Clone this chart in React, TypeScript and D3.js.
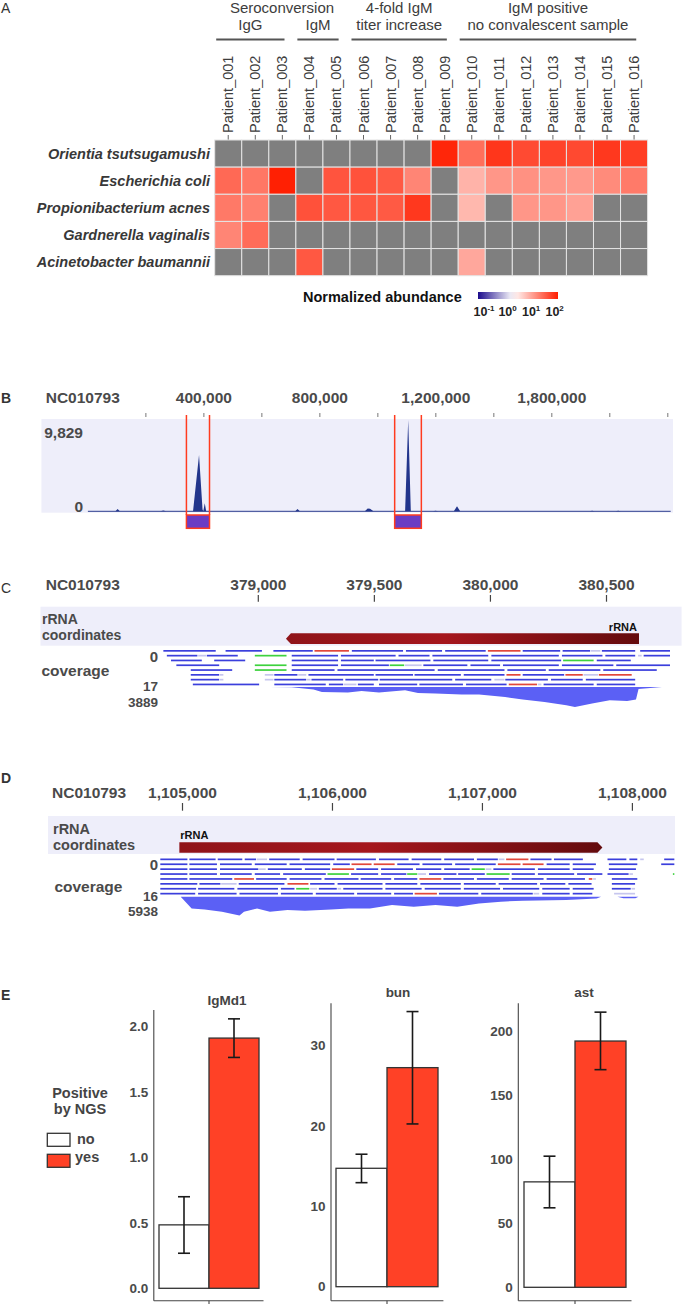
import React from "react";
import * as d3 from "d3";

const FONT = "'Liberation Sans', Arial, Helvetica, sans-serif";

// ---------------- Panel A data ----------------
const patients = [
  "Patient_001", "Patient_002", "Patient_003", "Patient_004", "Patient_005", "Patient_006",
  "Patient_007", "Patient_008", "Patient_009", "Patient_010", "Patient_011", "Patient_012",
  "Patient_013", "Patient_014", "Patient_015", "Patient_016",
];
const species = [
  "Orientia tsutsugamushi",
  "Escherichia coli",
  "Propionibacterium acnes",
  "Gardnerella vaginalis",
  "Acinetobacter baumannii",
];
// log10 normalized abundance, null = not detected
const orientiaVals = [null, null, null, null, null, null, null, null, 2.03, 1.42, 1.9, 1.73, 1.79, 1.74, 1.88, 1.83];
const ecoliVals = [1.47, 1.35, 2.08, null, 1.64, 1.66, 1.59, 1.23, null, 0.84, 1.09, 1.13, 1.08, 1.06, 1.18, 1.32];
const acnesVals = [1.33, 1.27, null, 1.67, 1.61, 1.62, 1.59, 1.88, null, 0.8, null, 1.09, 1.09, 0.99, null, null];
const gardnerellaVals = [1.23, 1.44, null, null, null, null, null, null, null, null, null, null, null, null, null, null];
const acinetoVals = [null, null, null, 1.61, null, null, null, null, null, 0.94, null, null, null, null, null, null];
const heatRows = [orientiaVals, ecoliVals, acnesVals, gardnerellaVals, acinetoVals];

const groupTitles = [
  { l1: "", l2: "IgG", from: 0, to: 2 },
  { l1: "", l2: "IgM", from: 3, to: 4 },
  { l1: "4-fold IgM", l2: "titer increase", from: 5, to: 8 },
  { l1: "IgM positive", l2: "no convalescent sample", from: 9, to: 15 },
];
const legendTicks = [-1, 0, 1, 2];

// ---------------- Panel B data ----------------
const bCovPos = [0, 95000, 102500, 110000, 250000, 260000, 270000, 355000, 362600, 383300, 395400, 398000, 403000, 408000,
  715000, 723000, 731000, 955000, 965000, 973000, 985000, 1094000, 1104700, 1113700, 1120000, 1190000, 1199000, 1208000,
  1262000, 1273000, 1284000, 1730000, 1739000, 1748000, 1820000, 1829000, 1838000, 2010000];
const bCovVal = [0, 0, 250, 0, 0, 80, 0, 0, 0, 6060, 200, 0, 860, 0,
  0, 250, 0, 0, 300, 280, 0, 0, 9829, 0, 0, 0, 60, 0,
  0, 540, 0, 0, 70, 0, 0, 60, 0, 0];
const bTicks = [200000, 400000, 600000, 800000, 1000000, 1200000, 1400000, 1600000, 1800000, 2000000];
const bLabelPos = [400000, 800000, 1200000, 1600000];
const bLabelText = ["400,000", "800,000", "1,200,000", "1,800,000"];
const bRegions = [[339800, 419400], [1058000, 1150000]];
const bMax = 9829;

// ---------------- Panel C data ----------------
const cTicks = [379000, 379500, 380000, 380500];
const cFeature = { start: 379119, end: 380640, strand: -1 };
const cCovPos = [379050, 379144, 379238, 379274, 379386, 379445, 379520, 379632, 379688, 379763, 379876, 379951, 380063,
  380139, 380233, 380327, 380364, 380438, 380514, 380589, 380627, 380638, 380739];
const cCovVal = [0, 60, 500, 970, 1090, 780, 1090, 640, 1170, 1280, 1480, 1480, 1940, 2450, 2920, 3560, 3889, 3230, 2590,
  2720, 2450, 400, 0];
const cMax = 3889;
const cRowsLabel = 17;
const cReadRows = [
  [[378591, 378820, "b"], [378859, 379019, "b"], [379065, 379238, "b"], [379242, 379394, "r"], [379403, 379627, "b"], [379636, 379795, "b"], [379805, 379983, "b"], [379989, 380133, "r"], [380139, 380304, "b"], [380311, 380433, "b"], [380433, 380477, "l"], [380480, 380627, "b"], [380645, 380777, "b"]],
  [[378606, 378741, "b"], [378741, 378778, "l"], [378778, 378915, "b"], [378985, 379125, "g"], [379144, 379347, "b"], [379356, 379595, "b"], [379604, 379741, "b"], [379750, 379994, "b"], [380004, 380298, "b"], [380308, 380486, "b"], [380495, 380627, "b"], [380636, 380655, "l"], [380660, 380777, "b"]],
  [[378624, 378760, "b"], [378810, 378947, "b"], [379144, 379347, "b"], [379356, 379501, "b"], [379505, 379745, "b"], [379754, 379994, "b"], [380004, 380308, "b"], [380313, 380448, "g"], [380458, 380608, "b"]],
  [[378647, 378835, "b"], [378985, 379125, "g"], [379144, 379347, "b"], [379356, 379566, "b"], [379566, 379632, "g"], [379632, 379707, "l"], [379711, 379904, "b"], [379914, 380045, "b"], [380054, 380298, "b"], [380308, 380533, "b"], [380542, 380777, "b"]],
  [[378709, 378891, "b"], [378985, 379125, "g"], [379144, 379332, "b"], [379341, 379763, "b"], [379773, 380064, "b"], [380073, 380242, "b"], [380251, 380477, "b"], [380486, 380720, "b"]],
  [[378709, 378835, "b"], [378835, 378853, "l"], [379028, 379069, "l"], [379069, 379172, "b"], [379172, 379210, "l"], [379216, 379501, "b"], [379505, 379670, "b"], [379673, 379876, "b"], [379885, 380064, "b"], [380069, 380133, "r"], [380139, 380321, "b"], [380323, 380401, "r"], [380401, 380467, "l"], [380467, 380612, "r"]],
  [[378709, 378835, "b"], [378835, 378853, "l"], [379028, 379069, "l"], [379069, 379210, "b"], [379210, 379229, "l"], [379229, 379369, "b"], [379375, 379520, "b"], [379523, 379839, "b"], [379848, 380007, "b"], [380017, 380064, "l"], [380064, 380251, "b"], [380261, 380401, "b"], [380411, 380627, "b"]],
  [[378718, 379007, "b"], [379069, 379294, "b"], [379304, 379369, "b"], [379369, 379426, "l"], [379429, 379501, "b"], [379520, 379688, "b"], [379694, 379885, "b"], [379895, 380073, "b"], [380079, 380204, "r"], [380204, 380223, "l"], [380229, 380448, "b"], [380458, 380627, "b"]],
];

// ---------------- Panel D data ----------------
const dTicks = [1105000, 1106000, 1107000, 1108000];
const dFeature = { start: 1104979, end: 1107800, strand: 1 };
const dCovPos = [1104988, 1105061, 1105148, 1105263, 1105380, 1105410, 1105497, 1105583, 1105700, 1105817, 1105990, 1106106,
  1106250, 1106397, 1106542, 1106687, 1106832, 1106977, 1107123, 1107268, 1107559, 1107762, 1107791, 1107900, 1107940,
  1108020, 1108040];
const dCovVal = [0, 3700, 4010, 4740, 5938, 4740, 3700, 4740, 4200, 4420, 4010, 3700, 3700, 2620, 3160, 2620, 3160, 2120,
  1580, 1260, 1040, 540, 0, 0, 450, 450, 0];
const dMax = 5938;
const dRowsLabel = 16;
const dReadRows = [
  [[1104852, 1105038, "b"], [1105046, 1105226, "b"], [1105235, 1105404, "b"], [1105415, 1105496, "b"], [1105496, 1105569, "l"], [1105578, 1105787, "b"], [1105801, 1106019, "b"], [1106028, 1106295, "b"], [1106310, 1106513, "b"], [1106528, 1106731, "b"], [1106745, 1106949, "b"], [1106963, 1107108, "b"], [1107108, 1107152, "l"], [1107158, 1107312, "r"], [1107320, 1107466, "b"], [1107477, 1107675, "b"], [1107834, 1107965, "b"], [1107980, 1108038, "b"], [1108052, 1108081, "l"], [1108212, 1108285, "b"]],
  [[1104852, 1105038, "b"], [1105046, 1105235, "b"], [1105250, 1105467, "b"], [1105482, 1105700, "b"], [1105714, 1105990, "b"], [1106005, 1106121, "b"], [1106127, 1106266, "r"], [1106275, 1106420, "r"], [1106432, 1106586, "b"], [1106600, 1106803, "b"], [1106818, 1107094, "b"], [1107103, 1107259, "r"], [1107268, 1107413, "r"], [1107428, 1107587, "b"], [1107602, 1107762, "b"], [1107843, 1108038, "b"], [1108192, 1108285, "b"]],
  [[1104852, 1105038, "b"], [1105046, 1105235, "b"], [1105250, 1105511, "b"], [1105511, 1105560, "l"], [1105569, 1105801, "b"], [1105816, 1105990, "b"], [1105996, 1106150, "r"], [1106159, 1106310, "b"], [1106324, 1106542, "b"], [1106557, 1106731, "b"], [1106745, 1106920, "b"], [1106928, 1107021, "g"], [1107021, 1107065, "l"], [1107073, 1107355, "b"], [1107370, 1107587, "b"], [1107602, 1107747, "b"], [1107843, 1108029, "b"]],
  [[1104852, 1105038, "b"], [1105046, 1105235, "b"], [1105250, 1105467, "b"], [1105482, 1105656, "b"], [1105671, 1105961, "b"], [1105967, 1106115, "g"], [1106124, 1106310, "b"], [1106324, 1106498, "b"], [1106498, 1106571, "g"], [1106571, 1106629, "l"], [1106644, 1106832, "b"], [1106838, 1107021, "b"], [1107027, 1107187, "g"], [1107195, 1107355, "b"], [1107370, 1107617, "b"], [1107631, 1107805, "b"], [1107834, 1107980, "b"], [1107980, 1108009, "l"], [1108270, 1108285, "g"]],
  [[1104852, 1105038, "b"], [1105046, 1105337, "b"], [1105345, 1105482, "r"], [1105491, 1105700, "b"], [1105714, 1105932, "b"], [1105947, 1106179, "b"], [1106188, 1106397, "b"], [1106411, 1106571, "b"], [1106580, 1106731, "r"], [1106740, 1106949, "b"], [1106963, 1107181, "b"], [1107195, 1107413, "b"], [1107428, 1107689, "b"], [1107709, 1107738, "r"], [1107738, 1107762, "l"], [1107863, 1108038, "b"]],
  [[1104852, 1105104, "b"], [1105113, 1105258, "b"], [1105258, 1105366, "l"], [1105375, 1105685, "b"], [1105700, 1105845, "r"], [1105851, 1106019, "b"], [1106034, 1106339, "b"], [1106353, 1106571, "b"], [1106586, 1106861, "b"], [1106876, 1107094, "b"], [1107108, 1107370, "b"], [1107384, 1107558, "b"], [1107573, 1107733, "b"], [1107863, 1108023, "b"]],
  [[1104852, 1105096, "b"], [1105104, 1105351, "b"], [1105366, 1105642, "b"], [1105656, 1105752, "b"], [1105758, 1105851, "g"], [1105851, 1105903, "l"], [1105909, 1106034, "b"], [1106034, 1106063, "l"], [1106072, 1106339, "b"], [1106353, 1106600, "b"], [1106615, 1106861, "b"], [1106876, 1107123, "b"], [1107137, 1107384, "b"], [1107399, 1107587, "b"], [1107602, 1107747, "b"], [1107863, 1107994, "b"], [1107994, 1108023, "l"]],
  [[1104852, 1105090, "b"], [1105104, 1105366, "b"], [1105380, 1105642, "b"], [1105656, 1105874, "b"], [1105889, 1106150, "b"], [1106164, 1106397, "b"], [1106411, 1106542, "b"], [1106548, 1106702, "r"], [1106710, 1106978, "b"], [1106992, 1107341, "b"], [1107341, 1107384, "l"], [1107399, 1107587, "b"], [1107602, 1107738, "b"], [1107878, 1108023, "l"]],
];

// ---------------- Panel E data ----------------
const eGroups = ["no", "yes"];
const igmMean = [0.485, 1.913];
const igmLo = [0.268, 1.765];
const igmHi = [0.7, 2.06];
const igmTicks = [0, 0.5, 1, 1.5, 2];
const bunMean = [14.74, 27.27];
const bunLo = [12.95, 20.26];
const bunHi = [16.49, 34.25];
const bunTicks = [0, 10, 20, 30];
const astMean = [82.5, 192.7];
const astLo = [62.2, 170.3];
const astHi = [102.6, 215.3];
const astTicks = [0, 50, 100, 150, 200];

// ---------------- styles ----------------
const GRAY_TXT = "#3d3d3d";
const IGV_TXT = "#4a4a4a";
const BAND_BG = "#eeeefa";
const readColors: Record<string, string> = { b: "#3b3fdc", r: "#e2473b", g: "#3ed23e", l: "#c6c6ee" };
const heatColor = d3.scaleLinear<string>().domain([-1.3, 0.2, 2.1]).range(["#1c0c8c", "#ffffff", "#ff1e00"]).clamp(true);

function Reads({ rows, x, y0, dy }: any) {
  return (
    <g>
      {rows.map((row: any[], i: number) =>
        row.map((r: any, j: number) => (
          <rect key={i + "-" + j} x={x(r[0])} y={y0 + i * dy} width={Math.max(0.8, x(r[1]) - x(r[0]) - 0.8)} height={1.7}
            fill={readColors[r[2]]} />
        ))
      )}
    </g>
  );
}

function Arrow({ f, x, top, h }: any) {
  const x0 = x(f.start), x1 = x(f.end), mid = top + h / 2, tip = 5;
  const pts = f.strand < 0
    ? [[x0, mid], [x0 + tip, top], [x1, top], [x1, top + h], [x0 + tip, top + h]]
    : [[x0, top], [x1 - tip, top], [x1, mid], [x1 - tip, top + h], [x0, top + h]];
  return <polygon points={pts.map((p) => p.join(",")).join(" ")} fill="url(#rrnaGrad)" />;
}

function PanelA() {
  const xA = d3.scaleBand().domain(patients).range([214.7, 647.6]);
  const yA = d3.scaleBand().domain(species).range([140, 275.7]);
  const bw = xA.bandwidth();
  const lg = d3.scaleLinear().domain([-1.3, 2.1]).range([478, 558]);
  const stops = d3.range(0, 1.0001, 0.1).map((t) => ({ t, c: heatColor(-1.3 + t * 3.4) }));
  return (
    <g>
      <defs>
        <linearGradient id="abundGrad" x1="0" x2="1" y1="0" y2="0">
          {stops.map((s) => <stop key={s.t} offset={s.t} stopColor={s.c} />)}
        </linearGradient>
      </defs>
      <text x={1} y={13} fontSize={14} fill="#333">A</text>
      <text x={282} y={13} fontSize={15} fill={GRAY_TXT} textAnchor="middle">Seroconversion</text>
      {groupTitles.map((g, i) => {
        const a = (xA(patients[g.from]) as number) + 1.5;
        const b = (xA(patients[g.to]) as number) + bw * 0.58;
        const c = (a + b) / 2;
        return (
          <g key={i}>
            {g.l1 && <text x={c} y={13} fontSize={15} fill={GRAY_TXT} textAnchor="middle">{g.l1}</text>}
            <text x={c} y={29.5} fontSize={15} fill={GRAY_TXT} textAnchor="middle">{g.l2}</text>
            <line x1={a} x2={b} y1={39.5} y2={39.5} stroke="#555" strokeWidth={1.8} />
          </g>
        );
      })}
      {patients.map((p) => {
        const cx = (xA(p) as number) + bw / 2;
        return (
          <g key={p}>
            <text transform={`translate(${cx + 5},133) rotate(-90)`} fontSize={14.5} fill={GRAY_TXT}>{p}</text>
            <line x1={cx} x2={cx} y1={135} y2={140} stroke="#666" strokeWidth={1} />
          </g>
        );
      })}
      {species.map((s, r) => (
        <g key={s}>
          <text x={210} y={(yA(s) as number) + yA.bandwidth() / 2 + 5} fontSize={14.5} fontWeight="bold" fontStyle="italic"
            fill="#383838" textAnchor="end">{s}</text>
          {patients.map((p, c) => {
            const v = heatRows[r][c];
            return (
              <rect key={p} x={xA(p)} y={yA(s)} width={bw} height={yA.bandwidth()}
                fill={v == null ? "#7f7f7f" : heatColor(v)} stroke="#e4e4e4" strokeWidth={1} />
            );
          })}
        </g>
      ))}
      <text x={303} y={302} fontSize={14.5} fontWeight="bold" fill="#111">Normalized abundance</text>
      <rect x={lg(-1.3)} y={292} width={lg(2.1) - lg(-1.3)} height={7} fill="url(#abundGrad)" />
      {legendTicks.map((t) => (
        <text key={t} x={lg(t) - 1} y={316} fontSize={12.5} fontWeight="bold" fill="#222" textAnchor="middle">
          10<tspan fontSize={8} dy={-5}>{String(t)}</tspan>
        </text>
      ))}
    </g>
  );
}

function PanelB() {
  const bX = d3.scaleLinear().domain([0, 2010000]).range([87.9, 670.7]);
  const bY = d3.scaleLinear().domain([0, bMax]).range([511.3, 420]);
  const data = bCovPos.map((p, i) => [p, bCovVal[i]] as [number, number]);
  const area = d3.area<[number, number]>().x((d) => bX(d[0])).y0(bY(0)).y1((d) => bY(d[1]));
  return (
    <g>
      <text x={1} y={403} fontSize={14} fontWeight="bold" fill="#333">B</text>
      <text x={45.7} y={403} fontSize={15.5} fontWeight="bold" fill={IGV_TXT}>NC010793</text>
      {bLabelPos.map((p, i) => (
        <text key={p} x={bX(p)} y={403} fontSize={15.5} fontWeight="bold" fill={IGV_TXT} textAnchor="middle">{bLabelText[i]}</text>
      ))}
      {bTicks.map((t) => <line key={t} x1={bX(t)} x2={bX(t)} y1={413} y2={417} stroke="#777" strokeWidth={1} />)}
      <rect x={41.4} y={419} width={673 - 41.4} height={512.7 - 419} fill={BAND_BG} />
      <text x={83} y={438} fontSize={15.5} fontWeight="bold" fill={IGV_TXT} textAnchor="end">{d3.format(",")(bMax)}</text>
      <text x={83} y={511.5} fontSize={15.5} fontWeight="bold" fill={IGV_TXT} textAnchor="end">0</text>
      <path d={area(data) as string} fill="#22358c" />
      <line x1={bX(0)} x2={bX(2010000)} y1={bY(0)} y2={bY(0)} stroke="#2b3d8e" strokeWidth={1} />
      {bRegions.map(([s, e]) => (
        <g key={s}>
          <line x1={bX(s)} x2={bX(s)} y1={415} y2={515} stroke="#ff3b1f" strokeWidth={1.5} />
          <line x1={bX(e)} x2={bX(e)} y1={415} y2={515} stroke="#ff3b1f" strokeWidth={1.5} />
          <rect x={bX(s)} y={515} width={bX(e) - bX(s)} height={13.3} fill="#6a3cc4" stroke="#ff3b1f" strokeWidth={1.5} />
        </g>
      ))}
    </g>
  );
}

function PanelC() {
  const cX = d3.scaleLinear().domain([379000, 380500]).range([258.3, 606.5]);
  const cY = d3.scaleLinear().domain([0, cMax]).range([687, 707]);
  const data = cCovPos.map((p, i) => [p, cCovVal[i]] as [number, number]);
  const area = d3.area<[number, number]>().x((d) => cX(d[0])).y0(cY(0)).y1((d) => cY(d[1]));
  return (
    <g>
      <text x={1} y={593} fontSize={14} fill="#333">C</text>
      <text x={45.7} y={590} fontSize={15.5} fontWeight="bold" fill={IGV_TXT}>NC010793</text>
      {cTicks.map((t) => (
        <g key={t}>
          <text x={cX(t)} y={590} fontSize={15.5} fontWeight="bold" fill={IGV_TXT} textAnchor="middle">{d3.format(",")(t)}</text>
          <line x1={cX(t)} x2={cX(t)} y1={595} y2={601.7} stroke="#444" strokeWidth={1.2} />
        </g>
      ))}
      <rect x={40.5} y={606.7} width={681.6 - 40.5} height={39} fill={BAND_BG} />
      <text x={42} y={624} fontSize={14} fontWeight="bold" fill={IGV_TXT}>rRNA</text>
      <text x={42} y={640.3} fontSize={14} fontWeight="bold" fill={IGV_TXT}>coordinates</text>
      <Arrow f={cFeature} x={cX} top={633.3} h={10.7} />
      <text x={cX(cFeature.end) - 2} y={630.5} fontSize={11} fontWeight="bold" fill="#111" textAnchor="end">rRNA</text>
      <Reads rows={cReadRows} x={cX} y0={650} dy={4.8} />
      <text x={158} y={661.7} fontSize={15} fontWeight="bold" fill={IGV_TXT} textAnchor="end">0</text>
      <text x={41.4} y={676} fontSize={15.5} fontWeight="bold" fill={IGV_TXT}>coverage</text>
      <text x={158} y={691.3} fontSize={13.5} fontWeight="bold" fill={IGV_TXT} textAnchor="end">{cRowsLabel}</text>
      <text x={158} y={707} fontSize={13.5} fontWeight="bold" fill={IGV_TXT} textAnchor="end">{cMax}</text>
      <path d={area(data) as string} fill="#5b60f5" />
    </g>
  );
}

function PanelD() {
  const dX = d3.scaleLinear().domain([1105000, 1108000]).range([182.5, 632.4]);
  const dY = d3.scaleLinear().domain([0, dMax]).range([896.7, 915.5]);
  const data = dCovPos.map((p, i) => [p, dCovVal[i]] as [number, number]);
  const area = d3.area<[number, number]>().x((d) => dX(d[0])).y0(dY(0)).y1((d) => dY(d[1]));
  return (
    <g>
      <text x={1} y={783} fontSize={14} fontWeight="bold" fill="#333">D</text>
      <text x={52} y={798} fontSize={15.5} fontWeight="bold" fill={IGV_TXT}>NC010793</text>
      {dTicks.map((t) => (
        <g key={t}>
          <text x={dX(t)} y={798} fontSize={15.5} fontWeight="bold" fill={IGV_TXT} textAnchor="middle">{d3.format(",")(t)}</text>
          <line x1={dX(t)} x2={dX(t)} y1={803} y2={810.7} stroke="#444" strokeWidth={1.2} />
        </g>
      ))}
      <rect x={48} y={816} width={675 - 48} height={38} fill={BAND_BG} />
      <text x={53} y={833.5} fontSize={14.5} fontWeight="bold" fill={IGV_TXT}>rRNA</text>
      <text x={53} y={850.3} fontSize={14.5} fontWeight="bold" fill={IGV_TXT}>coordinates</text>
      <Arrow f={dFeature} x={dX} top={842.3} h={10.4} />
      <text x={dX(dFeature.start) + 1} y={839.3} fontSize={11} fontWeight="bold" fill="#111">rRNA</text>
      <Reads rows={dReadRows} x={dX} y0={858.5} dy={4.9} />
      <text x={158} y={870} fontSize={15} fontWeight="bold" fill={IGV_TXT} textAnchor="end">0</text>
      <text x={54.4} y={892} fontSize={15.5} fontWeight="bold" fill={IGV_TXT}>coverage</text>
      <text x={158} y={900.5} fontSize={13.5} fontWeight="bold" fill={IGV_TXT} textAnchor="end">{dRowsLabel}</text>
      <text x={158} y={916.2} fontSize={13.5} fontWeight="bold" fill={IGV_TXT} textAnchor="end">{dMax}</text>
      <path d={area(data) as string} fill="#5b60f5" />
    </g>
  );
}

function BarPanel({ title, titleX, titleY, mean, lo, hi, ticks, fmt, yDom, yRange, axisX, band, axisTop }: any) {
  const y = d3.scaleLinear().domain(yDom).range(yRange);
  const x = d3.scaleBand().domain(eGroups).range(band).padding(0);
  const bottom = 1300.7;
  return (
    <g>
      <text x={titleX} y={titleY} fontSize={13.5} fontWeight="bold" fill="#444" textAnchor="middle">{title}</text>
      <line x1={axisX[0]} x2={axisX[0]} y1={axisTop} y2={bottom} stroke="#444" strokeWidth={1.1} />
      <line x1={axisX[0]} x2={axisX[1]} y1={bottom} y2={bottom} stroke="#444" strokeWidth={1.1} />
      <line x1={x("yes")} x2={x("yes")} y1={bottom} y2={1304} stroke="#444" strokeWidth={1.1} />
      {ticks.map((t: number) => (
        <text key={t} x={axisX[0] - 5.5} y={y(t) + 4.7} fontSize={13.5} fontWeight="bold" fill="#4a4a4a" textAnchor="end">{fmt(t)}</text>
      ))}
      {eGroups.map((g, i) => (
        <rect key={g} x={x(g)} y={y(mean[i])} width={x.bandwidth()} height={y(0) - y(mean[i])}
          fill={g === "yes" ? "#ff4126" : "#ffffff"} stroke="#333" strokeWidth={1.3} />
      ))}
      {eGroups.map((g, i) => {
        const cx = (x(g) as number) + x.bandwidth() / 2;
        return (
          <g key={g} stroke="#1a1a1a" strokeWidth={1.6}>
            <line x1={cx} x2={cx} y1={y(lo[i])} y2={y(hi[i])} />
            <line x1={cx - 6} x2={cx + 6} y1={y(lo[i])} y2={y(lo[i])} />
            <line x1={cx - 6} x2={cx + 6} y1={y(hi[i])} y2={y(hi[i])} />
          </g>
        );
      })}
    </g>
  );
}

function PanelE() {
  const f1 = d3.format(".1f");
  const f0 = d3.format("d");
  return (
    <g>
      <text x={1} y={1000} fontSize={14} fontWeight="bold" fill="#333">E</text>
      <BarPanel title="IgMd1" titleX={227} titleY={1005} mean={igmMean} lo={igmLo} hi={igmHi} ticks={igmTicks} fmt={f1}
        yDom={[0, 2]} yRange={[1288.3, 1026.7]} axisX={[153.8, 263.5]} band={[159, 259]} axisTop={1010} />
      <BarPanel title="bun" titleX={398} titleY={996.5} mean={bunMean} lo={bunLo} hi={bunHi} ticks={bunTicks} fmt={f0}
        yDom={[0, 30]} yRange={[1286.7, 1045.7]} axisX={[331, 443.4]} band={[336, 438]} axisTop={1003.3} />
      <BarPanel title="ast" titleX={584} titleY={996.5} mean={astMean} lo={astLo} hi={astHi} ticks={astTicks} fmt={f0}
        yDom={[0, 200]} yRange={[1287.3, 1031.7]} axisX={[518.3, 631.5]} band={[524, 626]} axisTop={1003.3} />
      <text x={80} y={1097.5} fontSize={14.5} fontWeight="bold" fill="#444" textAnchor="middle">Positive</text>
      <text x={80} y={1114.3} fontSize={14.5} fontWeight="bold" fill="#444" textAnchor="middle">by NGS</text>
      {eGroups.map((g, i) => (
        <g key={g}>
          <rect x={47.3} y={1133.3 + i * 21} width={22.7} height={13} fill={g === "yes" ? "#ff4126" : "#ffffff"} stroke="#333" strokeWidth={1.3} />
          <text x={g === "yes" ? 75 : 77} y={1143.5 + i * 18.5} fontSize={14.5} fontWeight="bold" fill="#444">{g}</text>
        </g>
      ))}
    </g>
  );
}

export default function App() {
  return (
    <svg width={683} height={1304} viewBox="0 0 683 1304" fontFamily={FONT}
      style={{ position: "absolute", left: 0, top: 0, display: "block", background: "#ffffff" }}>
      <defs>
        <linearGradient id="rrnaGrad" x1="0" x2="1" y1="0" y2="0">
          <stop offset="0" stopColor="#8f1419" />
          <stop offset="0.45" stopColor="#a5161d" />
          <stop offset="1" stopColor="#640b0d" />
        </linearGradient>
      </defs>
      <PanelA />
      <PanelB />
      <PanelC />
      <PanelD />
      <PanelE />
    </svg>
  );
}
